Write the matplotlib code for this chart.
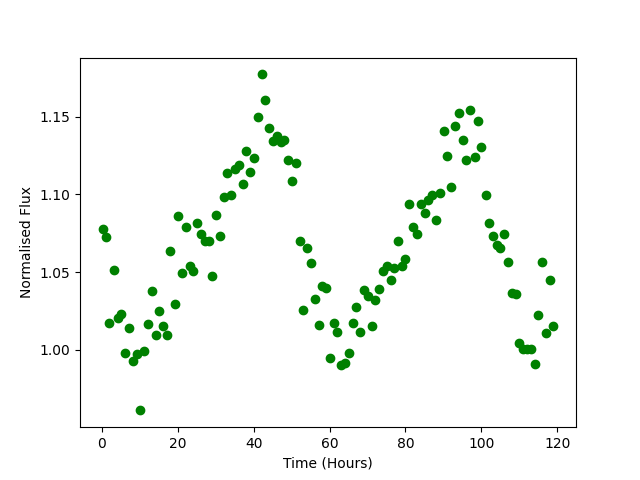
import numpy as np
import matplotlib
matplotlib.use('Agg')
from matplotlib import pyplot as plt

# Light curve
time = [0.2, 1.1, 2.0, 3.1, 4.2, 5.0, 6.1, 7.1, 8.2, 9.2,
        10.0, 11.2, 12.1, 13.1, 14.2, 15.0, 16.2, 17.2, 18.1, 19.3,
        20.0, 21.1, 22.2, 23.3, 24.1, 25.1, 26.1, 27.2, 28.3, 29.0,
        30.1, 31.1, 32.1, 33.1, 34.1, 35.1, 36.1, 37.2, 38.1, 39.0,
        40.0, 41.2, 42.2, 42.9, 44.1, 45.1, 46.2, 47.2, 48.0, 49.1,
        50.1, 51.2, 52.2, 53.0, 54.1, 55.1, 56.2, 57.2, 58.0, 59.1,
        60.2, 61.2, 62.0, 63.1, 64.1, 65.2, 66.2, 67.0, 68.1, 69.1,
        70.2, 71.2, 72.0, 73.1, 74.1, 75.2, 76.2, 77.0, 78.1, 79.2,
        80.0, 81.0, 82.1, 83.1, 84.2, 85.2, 86.0, 87.1, 88.1, 89.2,
        90.2, 91.0, 92.1, 93.1, 94.2, 95.2, 96.0, 97.1, 98.2, 99.2,
        100.0, 101.1, 102.1, 103.2, 104.2, 105.0, 106.1, 107.1, 108.2, 109.2,
        110.0, 111.1, 112.1, 113.2, 114.2, 115.0, 116.1, 117.1, 118.2, 119.0]

flux = [1.0780, 1.0724, 1.0175, 1.0516, 1.0207, 1.0233, 0.9982, 1.0138, 0.9930, 0.9971,
        0.9610, 0.9995, 1.0169, 1.0377, 1.0093, 1.0248, 1.0151, 1.0098, 1.0634, 1.0297,
        1.0858, 1.0491, 1.0789, 1.0538, 1.0510, 1.0815, 1.0746, 1.0703, 1.0697, 1.0478,
        1.0866, 1.0735, 1.0980, 1.1138, 1.0993, 1.1164, 1.1186, 1.1064, 1.1276, 1.1147,
        1.1231, 1.1495, 1.1772, 1.1605, 1.1424, 1.1343, 1.1375, 1.1336, 1.1353, 1.1218,
        1.1083, 1.1205, 1.0703, 1.0254, 1.0658, 1.0561, 1.0330, 1.0160, 1.0413, 1.0398,
        0.9950, 1.0175, 1.0117, 0.9905, 0.9918, 0.9982, 1.0175, 1.0278, 1.0117, 1.0383,
        1.0343, 1.0156, 1.0323, 1.0388, 1.0504, 1.0536, 1.0446, 1.0529, 1.0703, 1.0542,
        1.0581, 1.0935, 1.0787, 1.0742, 1.0935, 1.0883, 1.0961, 1.0993, 1.0832, 1.1006,
        1.1405, 1.1244, 1.1045, 1.1437, 1.1521, 1.1353, 1.1218, 1.1540, 1.1238, 1.1469,
        1.1308, 1.0993, 1.0819, 1.0731, 1.0677, 1.0658, 1.0742, 1.0568, 1.0368, 1.0362,
        1.0046, 1.0008, 1.0008, 1.0008, 0.9911, 1.0227, 1.0568, 1.0111, 1.0452, 1.0156]

fig, ax = plt.subplots(figsize=(6.4, 4.8), dpi=100)
ax.plot(time, flux, 'go')

ax.set_xlabel('Time (Hours)')
ax.set_ylabel('Normalised Flux')

plt.savefig('out.png', dpi=100)
